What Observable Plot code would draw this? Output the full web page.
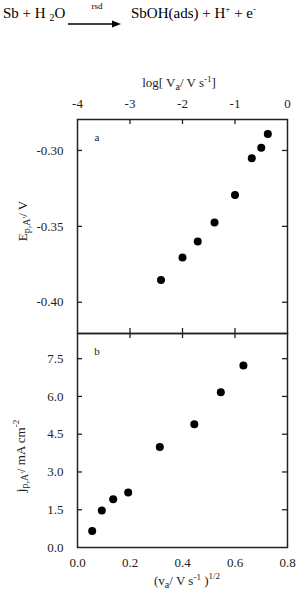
<!DOCTYPE html>
<html>
<head>
<meta charset="utf-8">
<script src="https://cdn.jsdelivr.net/npm/d3@7"></script>
<script src="https://cdn.jsdelivr.net/npm/@observablehq/plot@0.6"></script>
<style>
  html, body { margin: 0; padding: 0; background: #fff; }
  #wrap { position: relative; width: 308px; height: 591px; overflow: hidden; font-family: "Liberation Serif", serif; }
  #wrap > svg, #wrap > div { position: absolute; left: 0; }
  #wrap svg text { font-family: "Liberation Serif", serif; }
</style>
</head>
<body>
<div id="wrap"></div>
<script>
// ---- data ----
const logRate = [-2.41, -2.0, -1.71, -1.39, -1.0, -0.68, -0.50, -0.375];
const peakPotential = [-0.3854, -0.3706, -0.3600, -0.3474, -0.3293, -0.3052, -0.2982, -0.2891];
const sqrtRate = [0.056, 0.0926, 0.136, 0.193, 0.3136, 0.445, 0.546, 0.632];
const peakCurrent = [0.66, 1.47, 1.92, 2.18, 3.99, 4.90, 6.17, 7.23];
const topTicks = [-4, -3, -2, -1, 0];
const topInnerTicks = [-3, -2, -1];
const eTicks = [-0.40, -0.35, -0.30];
const bottomTicks = [0, 0.2, 0.4, 0.6, 0.8];
const bottomInnerTicks = [0.2, 0.4, 0.6];
const jTicks = [0, 1.5, 3.0, 4.5, 6.0, 7.5];

const topData = logRate.map((x, i) => ({x, y: peakPotential[i]}));
const botData = sqrtRate.map((x, i) => ({x, y: peakCurrent[i]}));

const FONT = "Liberation Serif";
const INK = "#222";
const W = 308, ML = 77, MR = 21;
const FW = W - ML - MR;  // frame width
const FH = 214;          // frame height
const TL = 5;            // inward tick length

const wrap = d3.select("#wrap");

// ---- equation header ----
const eq = wrap.append("svg").attr("width", W).attr("height", 60).style("top", "0px")
  .attr("font-family", FONT).attr("fill", "#000");
const t1 = eq.append("text").attr("x", 3).attr("y", 18).attr("font-size", 15);
t1.append("tspan").text("Sb + H ");
t1.append("tspan").attr("font-size", 10).attr("dy", 3).text("2");
t1.append("tspan").attr("dy", -3).text("O");
eq.append("text").attr("x", 97).attr("y", 9).attr("font-size", 9).attr("text-anchor", "middle").text("rsd");
eq.append("line").attr("x1", 68).attr("x2", 114).attr("y1", 24).attr("y2", 24).attr("stroke", "#000").attr("stroke-width", 1.3);
eq.append("path").attr("d", "M112,20.5 L121,24 L112,27.5 Z").attr("fill", "#000");
const t2 = eq.append("text").attr("x", 131).attr("y", 18).attr("font-size", 15);
t2.append("tspan").text("SbOH(ads) + H");
t2.append("tspan").attr("font-size", 9).attr("dy", -6).text("+");
t2.append("tspan").attr("dy", 6).text(" + e");
t2.append("tspan").attr("font-size", 9).attr("dy", -6).text("-");

// ---- top panel ----
const topPlot = Plot.plot({
  width: W, height: 275,
  marginTop: 59, marginBottom: 2, marginLeft: ML, marginRight: MR,
  style: {fontFamily: FONT, fontSize: "13px", color: INK, background: "transparent", overflow: "visible"},
  x: {domain: [-4, 0]},
  y: {domain: [-0.4206, -0.2796]},
  marks: [
    Plot.axisX(topTicks, {anchor: "top", tickSize: 0, tickPadding: 12, tickFormat: d => String(d), label: null, fontSize: 13, fontFamily: FONT}),
    Plot.axisY(eTicks, {anchor: "left", tickSize: 0, tickPadding: 14, tickFormat: d => d.toFixed(2), label: null, fontSize: 13, fontFamily: FONT}),
    Plot.tickX(topInnerTicks, {x: d => d, insetBottom: FH - TL, stroke: INK, strokeWidth: 1.3}),
    Plot.tickX(topInnerTicks, {x: d => d, insetTop: FH - TL, stroke: INK, strokeWidth: 1.3}),
    Plot.tickY(eTicks, {y: d => d, insetRight: FW - TL, stroke: INK, strokeWidth: 1.3}),
    Plot.tickY(eTicks, {y: d => d, insetLeft: FW - TL, stroke: INK, strokeWidth: 1.3}),
    Plot.frame({stroke: INK, strokeWidth: 1.5}),
    Plot.dot(topData, {x: "x", y: "y", r: 4, fill: "#000", stroke: "none"})
  ]
});
topPlot.style.top = "60px";
wrap.node().appendChild(topPlot);

const ts = d3.select(topPlot);
const tl = ts.append("text").attr("x", 179).attr("y", 27).attr("text-anchor", "middle")
  .attr("font-family", FONT).attr("font-size", 13).attr("fill", INK);
tl.append("tspan").text("log[ V");
tl.append("tspan").attr("font-size", 10).attr("dy", 3).text("a");
tl.append("tspan").attr("dy", -3).text("/ V s");
tl.append("tspan").attr("font-size", 9).attr("dy", -5).text("-1");
tl.append("tspan").attr("dy", 5).text("]");
ts.append("text").attr("x", 97).attr("y", 81).attr("font-family", FONT).attr("font-size", 11).attr("fill", INK).text("a");
const el = ts.append("text").attr("transform", "translate(27,161) rotate(-90)").attr("text-anchor", "middle")
  .attr("font-family", FONT).attr("font-size", 13).attr("fill", INK);
el.append("tspan").text("E");
el.append("tspan").attr("font-size", 10).attr("dy", 3).text("p,A'");
el.append("tspan").attr("dy", -3).text("/ V");

// ---- bottom panel ----
const botPlot = Plot.plot({
  width: W, height: 260,
  marginTop: 2, marginBottom: 44, marginLeft: ML, marginRight: MR,
  style: {fontFamily: FONT, fontSize: "13px", color: INK, background: "transparent", overflow: "visible"},
  x: {domain: [0, 0.8]},
  y: {domain: [0, 8.5]},
  marks: [
    Plot.axisX(bottomTicks, {anchor: "bottom", tickSize: 0, tickPadding: 10, tickFormat: d => d.toFixed(1), label: null, fontSize: 13, fontFamily: FONT}),
    Plot.axisY(jTicks, {anchor: "left", tickSize: 0, tickPadding: 14, tickFormat: d => d.toFixed(1), label: null, fontSize: 13, fontFamily: FONT}),
    Plot.tickX(bottomInnerTicks, {x: d => d, insetBottom: FH - TL, stroke: INK, strokeWidth: 1.3}),
    Plot.tickY(jTicks.slice(1), {y: d => d, insetRight: FW - TL, stroke: INK, strokeWidth: 1.3}),
    Plot.tickY(jTicks.slice(1), {y: d => d, insetLeft: FW - TL, stroke: INK, strokeWidth: 1.3}),
    Plot.frame({stroke: INK, strokeWidth: 1.5}),
    Plot.dot(botData, {x: "x", y: "y", r: 4, fill: "#000", stroke: "none"})
  ]
});
botPlot.style.top = "331px";
wrap.node().appendChild(botPlot);

const bs = d3.select(botPlot);
bs.append("text").attr("x", 97).attr("y", 24).attr("font-family", FONT).attr("font-size", 11).attr("fill", INK).text("b");
const jl = bs.append("text").attr("transform", "translate(25,125) rotate(-90)").attr("text-anchor", "middle")
  .attr("font-family", FONT).attr("font-size", 13).attr("fill", INK);
jl.append("tspan").text("j");
jl.append("tspan").attr("font-size", 10).attr("dy", 3).text("p,A'");
jl.append("tspan").attr("dy", -3).text("/ mA cm");
jl.append("tspan").attr("font-size", 9).attr("dy", -6).text("-2");
const xl = bs.append("text").attr("x", 187).attr("y", 254).attr("text-anchor", "middle")
  .attr("font-family", FONT).attr("font-size", 13).attr("fill", INK);
xl.append("tspan").text("(v");
xl.append("tspan").attr("font-size", 10).attr("dy", 3).text("a");
xl.append("tspan").attr("dy", -3).text("/ V s");
xl.append("tspan").attr("font-size", 9).attr("dy", -5).text("-1");
xl.append("tspan").attr("dy", 5).text(" )");
xl.append("tspan").attr("font-size", 9).attr("dy", -6).text("1/2");
</script>
</body>
</html>
